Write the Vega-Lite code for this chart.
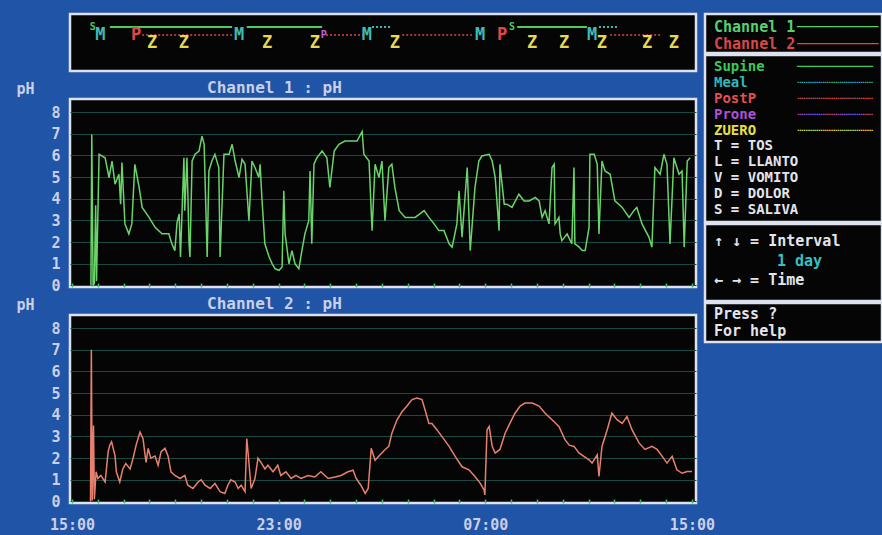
{
  "$schema": "https://vega.github.io/schema/vega-lite/v6.json",
  "background": "#2054a6",
  "padding": {"left": 14, "top": 12, "right": 2, "bottom": 8},
  "config": {
    "view": {"fill": "#050505", "stroke": "#dde2ee", "strokeWidth": 2.5},
    "font": "DejaVu Sans Mono",
    "text": {"font": "DejaVu Sans Mono", "fontWeight": "bold"},
    "axis": {"labelFont": "DejaVu Sans Mono", "labelFontWeight": "bold", "labelFontSize": 15, "labelColor": "#c9cfe6", "titleFont": "DejaVu Sans Mono", "titleFontWeight": "bold", "titleFontSize": 15, "titleColor": "#c9cfe6"},
    "title": {"font": "DejaVu Sans Mono", "fontWeight": "bold", "fontSize": 16, "color": "#c9cfe6", "anchor": "start", "frame": "group", "dx": 137, "offset": -15}
  },
  "datasets": {
    "ch1": [
      {"t":"2024-01-01T15:44","ph":0},{"t":"2024-01-01T15:46","ph":6.96},{"t":"2024-01-01T15:49","ph":0},{"t":"2024-01-01T15:52","ph":0.1},{"t":"2024-01-01T15:55","ph":3.7},{"t":"2024-01-01T15:57","ph":0.2},
      {"t":"2024-01-01T16:03","ph":6.05},{"t":"2024-01-01T16:17","ph":5.89},{"t":"2024-01-01T16:26","ph":4.98},{"t":"2024-01-01T16:33","ph":5.74},{"t":"2024-01-01T16:40","ph":4.67},{"t":"2024-01-01T16:49","ph":5.13},{"t":"2024-01-01T16:53","ph":3.75},{"t":"2024-01-01T16:56","ph":5.67},
      {"t":"2024-01-01T17:03","ph":2.84},{"t":"2024-01-01T17:12","ph":2.38},{"t":"2024-01-01T17:19","ph":2.84},{"t":"2024-01-01T17:26","ph":5.59},{"t":"2024-01-01T17:36","ph":4.52},{"t":"2024-01-01T17:43","ph":3.6},{"t":"2024-01-01T17:59","ph":3.14},
      {"t":"2024-01-01T18:13","ph":2.68},{"t":"2024-01-01T18:29","ph":2.38},{"t":"2024-01-01T18:45","ph":2.38},{"t":"2024-01-01T18:52","ph":1.92},{"t":"2024-01-01T18:59","ph":1.61},
      {"t":"2024-01-01T19:04","ph":2.9},{"t":"2024-01-01T19:09","ph":3.3},{"t":"2024-01-01T19:12","ph":1.31},{"t":"2024-01-01T19:20","ph":5.89},{"t":"2024-01-01T19:22","ph":3.45},{"t":"2024-01-01T19:27","ph":5.89},{"t":"2024-01-01T19:32","ph":1.9},{"t":"2024-01-01T19:34","ph":1.31},{"t":"2024-01-01T19:39","ph":5.74},{"t":"2024-01-01T19:46","ph":6.05},{"t":"2024-01-01T19:55","ph":6.2},
      {"t":"2024-01-01T20:02","ph":6.89},{"t":"2024-01-01T20:07","ph":6.51},{"t":"2024-01-01T20:09","ph":4.98},{"t":"2024-01-01T20:14","ph":1.31},{"t":"2024-01-01T20:18","ph":5.28},{"t":"2024-01-01T20:25","ph":5.74},{"t":"2024-01-01T20:32","ph":6.05},{"t":"2024-01-01T20:41","ph":5.44},{"t":"2024-01-01T20:44","ph":1.31},{"t":"2024-01-01T20:53","ph":6.05},
      {"t":"2024-01-01T21:05","ph":6.05},{"t":"2024-01-01T21:12","ph":6.51},{"t":"2024-01-01T21:19","ph":5.74},{"t":"2024-01-01T21:28","ph":4.98},{"t":"2024-01-01T21:35","ph":5.82},{"t":"2024-01-01T21:42","ph":5.59},{"t":"2024-01-01T21:51","ph":2.99},{"t":"2024-01-01T21:58","ph":5.74},
      {"t":"2024-01-01T22:05","ph":5.44},{"t":"2024-01-01T22:14","ph":4.98},{"t":"2024-01-01T22:17","ph":5.59},{"t":"2024-01-01T22:21","ph":4.06},{"t":"2024-01-01T22:28","ph":1.92},{"t":"2024-01-01T22:38","ph":1.31},{"t":"2024-01-01T22:45","ph":1.0},{"t":"2024-01-01T22:52","ph":0.77},
      {"t":"2024-01-01T23:01","ph":0.7},{"t":"2024-01-01T23:08","ph":0.85},{"t":"2024-01-01T23:12","ph":4.37},{"t":"2024-01-01T23:15","ph":2.38},{"t":"2024-01-01T23:24","ph":1.0},{"t":"2024-01-01T23:31","ph":1.61},{"t":"2024-01-01T23:38","ph":1.0},{"t":"2024-01-01T23:47","ph":0.77},{"t":"2024-01-01T23:54","ph":1.61},
      {"t":"2024-01-02T00:01","ph":2.38},{"t":"2024-01-02T00:10","ph":2.99},{"t":"2024-01-02T00:13","ph":5.28},{"t":"2024-01-02T00:17","ph":1.92},{"t":"2024-01-02T00:22","ph":5.59},{"t":"2024-01-02T00:29","ph":5.89},{"t":"2024-01-02T00:41","ph":6.2},{"t":"2024-01-02T00:52","ph":5.89},{"t":"2024-01-02T00:59","ph":4.52},
      {"t":"2024-01-02T01:09","ph":6.2},{"t":"2024-01-02T01:20","ph":6.51},{"t":"2024-01-02T01:34","ph":6.66},{"t":"2024-01-02T02:02","ph":6.66},{"t":"2024-01-02T02:14","ph":7.1},{"t":"2024-01-02T02:18","ph":6.05},{"t":"2024-01-02T02:30","ph":5.74},{"t":"2024-01-02T02:37","ph":2.53},{"t":"2024-01-02T02:44","ph":5.59},{"t":"2024-01-02T02:53","ph":4.98},
      {"t":"2024-01-02T03:00","ph":5.74},{"t":"2024-01-02T03:05","ph":3.75},{"t":"2024-01-02T03:07","ph":2.99},{"t":"2024-01-02T03:16","ph":5.44},{"t":"2024-01-02T03:23","ph":5.59},{"t":"2024-01-02T03:30","ph":4.52},{"t":"2024-01-02T03:40","ph":3.45},{"t":"2024-01-02T03:54","ph":3.14},
      {"t":"2024-01-02T04:17","ph":3.14},{"t":"2024-01-02T04:38","ph":3.45},{"t":"2024-01-02T04:49","ph":3.14},{"t":"2024-01-02T05:01","ph":2.84},{"t":"2024-01-02T05:12","ph":2.53},{"t":"2024-01-02T05:24","ph":2.53},{"t":"2024-01-02T05:36","ph":1.92},{"t":"2024-01-02T05:43","ph":1.77},{"t":"2024-01-02T05:54","ph":2.84},{"t":"2024-01-02T05:59","ph":4.37},
      {"t":"2024-01-02T06:06","ph":2.23},{"t":"2024-01-02T06:18","ph":5.44},{"t":"2024-01-02T06:25","ph":1.61},{"t":"2024-01-02T06:36","ph":4.52},{"t":"2024-01-02T06:45","ph":5.74},{"t":"2024-01-02T06:52","ph":5.97},
      {"t":"2024-01-02T07:09","ph":6.05},{"t":"2024-01-02T07:16","ph":5.74},{"t":"2024-01-02T07:23","ph":4.98},{"t":"2024-01-02T07:32","ph":2.53},{"t":"2024-01-02T07:34","ph":5.59},{"t":"2024-01-02T07:44","ph":3.75},{"t":"2024-01-02T07:50","ph":3.75},
      {"t":"2024-01-02T08:02","ph":3.6},{"t":"2024-01-02T08:18","ph":4.21},{"t":"2024-01-02T08:30","ph":3.9},{"t":"2024-01-02T08:42","ph":3.9},{"t":"2024-01-02T08:56","ph":4.06},
      {"t":"2024-01-02T09:05","ph":3.9},{"t":"2024-01-02T09:12","ph":3.14},{"t":"2024-01-02T09:19","ph":3.45},{"t":"2024-01-02T09:28","ph":2.84},{"t":"2024-01-02T09:35","ph":5.44},{"t":"2024-01-02T09:40","ph":5.59},{"t":"2024-01-02T09:42","ph":2.84},{"t":"2024-01-02T09:51","ph":3.14},{"t":"2024-01-02T09:54","ph":2.38},{"t":"2024-01-02T09:58","ph":2.07},
      {"t":"2024-01-02T10:10","ph":2.38},{"t":"2024-01-02T10:21","ph":1.92},{"t":"2024-01-02T10:26","ph":5.44},{"t":"2024-01-02T10:28","ph":1.92},{"t":"2024-01-02T10:38","ph":1.77},{"t":"2024-01-02T10:45","ph":1.61},{"t":"2024-01-02T10:52","ph":1.61},
      {"t":"2024-01-02T11:01","ph":2.68},{"t":"2024-01-02T11:03","ph":6.05},{"t":"2024-01-02T11:13","ph":6.05},{"t":"2024-01-02T11:20","ph":5.59},{"t":"2024-01-02T11:24","ph":2.38},{"t":"2024-01-02T11:31","ph":5.74},{"t":"2024-01-02T11:38","ph":5.28},{"t":"2024-01-02T11:50","ph":5.13},
      {"t":"2024-01-02T12:01","ph":3.9},{"t":"2024-01-02T12:18","ph":3.6},{"t":"2024-01-02T12:34","ph":3.14},{"t":"2024-01-02T12:45","ph":3.45},{"t":"2024-01-02T12:52","ph":3.6},
      {"t":"2024-01-02T13:04","ph":2.84},{"t":"2024-01-02T13:20","ph":2.23},{"t":"2024-01-02T13:27","ph":1.77},{"t":"2024-01-02T13:34","ph":5.44},{"t":"2024-01-02T13:46","ph":5.13},{"t":"2024-01-02T13:55","ph":6.05},
      {"t":"2024-01-02T14:02","ph":5.59},{"t":"2024-01-02T14:09","ph":1.92},{"t":"2024-01-02T14:18","ph":5.89},{"t":"2024-01-02T14:30","ph":5.13},{"t":"2024-01-02T14:37","ph":5.28},{"t":"2024-01-02T14:42","ph":1.77},{"t":"2024-01-02T14:49","ph":5.74},{"t":"2024-01-02T14:56","ph":5.89}
    ],
    "ch2": [
      {"t":"2024-01-01T15:43","ph":0},{"t":"2024-01-01T15:45","ph":7.0},{"t":"2024-01-01T15:47","ph":0.05},{"t":"2024-01-01T15:50","ph":3.5},{"t":"2024-01-01T15:52","ph":0.1},{"t":"2024-01-01T15:56","ph":1.37},
      {"t":"2024-01-01T16:00","ph":1.06},{"t":"2024-01-01T16:07","ph":1.2},{"t":"2024-01-01T16:17","ph":0.9},{"t":"2024-01-01T16:24","ph":2.3},{"t":"2024-01-01T16:28","ph":2.6},{"t":"2024-01-01T16:32","ph":2.75},{"t":"2024-01-01T16:40","ph":2.1},{"t":"2024-01-01T16:43","ph":1.37},{"t":"2024-01-01T16:51","ph":0.9},{"t":"2024-01-01T16:58","ph":1.5},
      {"t":"2024-01-01T17:05","ph":1.75},{"t":"2024-01-01T17:15","ph":1.5},{"t":"2024-01-01T17:22","ph":2.0},{"t":"2024-01-01T17:29","ph":2.6},{"t":"2024-01-01T17:38","ph":3.2},{"t":"2024-01-01T17:45","ph":2.9},{"t":"2024-01-01T17:52","ph":1.8},{"t":"2024-01-01T17:57","ph":2.45},
      {"t":"2024-01-01T18:03","ph":2.0},{"t":"2024-01-01T18:13","ph":2.1},{"t":"2024-01-01T18:20","ph":1.67},{"t":"2024-01-01T18:27","ph":2.3},{"t":"2024-01-01T18:36","ph":2.45},{"t":"2024-01-01T18:43","ph":2.1},{"t":"2024-01-01T18:50","ph":1.37},{"t":"2024-01-01T18:59","ph":1.2},
      {"t":"2024-01-01T19:11","ph":1.06},{"t":"2024-01-01T19:22","ph":1.2},{"t":"2024-01-01T19:29","ph":0.75},{"t":"2024-01-01T19:41","ph":0.6},{"t":"2024-01-01T19:53","ph":0.9},
      {"t":"2024-01-01T20:00","ph":1.0},{"t":"2024-01-01T20:09","ph":0.75},{"t":"2024-01-01T20:21","ph":0.6},{"t":"2024-01-01T20:32","ph":0.83},{"t":"2024-01-01T20:44","ph":0.45},{"t":"2024-01-01T20:55","ph":0.37},
      {"t":"2024-01-01T21:02","ph":0.75},{"t":"2024-01-01T21:09","ph":1.0},{"t":"2024-01-01T21:19","ph":0.9},{"t":"2024-01-01T21:26","ph":0.6},{"t":"2024-01-01T21:33","ph":0.75},{"t":"2024-01-01T21:42","ph":0.45},{"t":"2024-01-01T21:46","ph":2.9},{"t":"2024-01-01T21:51","ph":1.8},{"t":"2024-01-01T21:56","ph":0.6},
      {"t":"2024-01-01T22:05","ph":1.06},{"t":"2024-01-01T22:12","ph":2.0},{"t":"2024-01-01T22:19","ph":1.8},{"t":"2024-01-01T22:28","ph":1.5},{"t":"2024-01-01T22:35","ph":1.67},{"t":"2024-01-01T22:47","ph":1.37},{"t":"2024-01-01T22:58","ph":1.67},
      {"t":"2024-01-01T23:05","ph":1.2},{"t":"2024-01-01T23:17","ph":1.37},{"t":"2024-01-01T23:29","ph":1.06},{"t":"2024-01-01T23:40","ph":1.2},{"t":"2024-01-01T23:52","ph":1.06},
      {"t":"2024-01-02T00:08","ph":1.2},{"t":"2024-01-02T00:24","ph":1.13},{"t":"2024-01-02T00:38","ph":1.37},{"t":"2024-01-02T00:55","ph":1.06},{"t":"2024-01-02T01:11","ph":1.13},{"t":"2024-01-02T01:25","ph":1.2},{"t":"2024-01-02T01:41","ph":1.37},{"t":"2024-01-02T01:53","ph":1.44},
      {"t":"2024-01-02T02:00","ph":1.06},{"t":"2024-01-02T02:11","ph":0.75},{"t":"2024-01-02T02:21","ph":0.37},{"t":"2024-01-02T02:28","ph":0.6},{"t":"2024-01-02T02:35","ph":2.45},{"t":"2024-01-02T02:44","ph":1.9},{"t":"2024-01-02T02:53","ph":2.1},
      {"t":"2024-01-02T03:05","ph":2.35},{"t":"2024-01-02T03:16","ph":2.55},{"t":"2024-01-02T03:23","ph":3.15},{"t":"2024-01-02T03:35","ph":3.77},{"t":"2024-01-02T03:47","ph":4.15},{"t":"2024-01-02T03:58","ph":4.4},
      {"t":"2024-01-02T04:10","ph":4.7},{"t":"2024-01-02T04:21","ph":4.77},{"t":"2024-01-02T04:33","ph":4.7},{"t":"2024-01-02T04:40","ph":4.23},{"t":"2024-01-02T04:49","ph":3.6},{"t":"2024-01-02T04:56","ph":3.6},
      {"t":"2024-01-02T05:08","ph":3.3},{"t":"2024-01-02T05:19","ph":3.0},{"t":"2024-01-02T05:36","ph":2.54},{"t":"2024-01-02T05:50","ph":2.08},
      {"t":"2024-01-02T06:06","ph":1.6},{"t":"2024-01-02T06:22","ph":1.46},{"t":"2024-01-02T06:36","ph":1.15},{"t":"2024-01-02T06:48","ph":0.85},{"t":"2024-01-02T06:57","ph":0.54},{"t":"2024-01-02T06:59","ph":0.3},
      {"t":"2024-01-02T07:04","ph":3.3},{"t":"2024-01-02T07:09","ph":3.46},{"t":"2024-01-02T07:16","ph":2.54},{"t":"2024-01-02T07:23","ph":2.23},{"t":"2024-01-02T07:34","ph":2.4},{"t":"2024-01-02T07:46","ph":3.15},{"t":"2024-01-02T07:57","ph":3.6},
      {"t":"2024-01-02T08:09","ph":4.07},{"t":"2024-01-02T08:21","ph":4.4},{"t":"2024-01-02T08:32","ph":4.54},{"t":"2024-01-02T08:49","ph":4.54},
      {"t":"2024-01-02T09:05","ph":4.4},{"t":"2024-01-02T09:19","ph":4.07},{"t":"2024-01-02T09:35","ph":3.77},{"t":"2024-01-02T09:51","ph":3.46},
      {"t":"2024-01-02T10:05","ph":2.85},{"t":"2024-01-02T10:15","ph":2.6},{"t":"2024-01-02T10:26","ph":2.54},{"t":"2024-01-02T10:38","ph":2.23},{"t":"2024-01-02T10:49","ph":2.08},
      {"t":"2024-01-02T11:01","ph":1.92},{"t":"2024-01-02T11:08","ph":1.77},{"t":"2024-01-02T11:20","ph":2.15},{"t":"2024-01-02T11:24","ph":1.15},{"t":"2024-01-02T11:31","ph":2.54},{"t":"2024-01-02T11:43","ph":3.3},{"t":"2024-01-02T11:54","ph":4.07},
      {"t":"2024-01-02T12:06","ph":3.77},{"t":"2024-01-02T12:18","ph":3.6},{"t":"2024-01-02T12:29","ph":3.92},{"t":"2024-01-02T12:41","ph":3.3},{"t":"2024-01-02T12:57","ph":2.7},
      {"t":"2024-01-02T13:11","ph":2.4},{"t":"2024-01-02T13:27","ph":2.54},{"t":"2024-01-02T13:39","ph":2.4},{"t":"2024-01-02T13:51","ph":2.08},
      {"t":"2024-01-02T14:02","ph":1.77},{"t":"2024-01-02T14:14","ph":2.08},{"t":"2024-01-02T14:25","ph":1.46},{"t":"2024-01-02T14:37","ph":1.3},{"t":"2024-01-02T14:49","ph":1.38},{"t":"2024-01-02T15:00","ph":1.38}
    ],
    "events": [
      {"t":"2024-01-01T15:48","letter":"S","kind":"Supine","lane":"top"},
      {"t":"2024-01-01T16:06","letter":"M","kind":"Meal","lane":"mid"},
      {"t":"2024-01-01T17:29","letter":"P","kind":"PostP","lane":"mid"},
      {"t":"2024-01-01T18:06","letter":"Z","kind":"ZUERO","lane":"low"},
      {"t":"2024-01-01T19:20","letter":"Z","kind":"ZUERO","lane":"low"},
      {"t":"2024-01-01T21:28","letter":"M","kind":"Meal","lane":"mid"},
      {"t":"2024-01-01T22:33","letter":"Z","kind":"ZUERO","lane":"low"},
      {"t":"2024-01-02T00:24","letter":"Z","kind":"ZUERO","lane":"low"},
      {"t":"2024-01-02T00:45","letter":"P","kind":"Prone","lane":"mid"},
      {"t":"2024-01-02T02:25","letter":"M","kind":"Meal","lane":"mid"},
      {"t":"2024-01-02T03:30","letter":"Z","kind":"ZUERO","lane":"low"},
      {"t":"2024-01-02T06:48","letter":"M","kind":"Meal","lane":"mid"},
      {"t":"2024-01-02T07:39","letter":"P","kind":"PostP","lane":"mid"},
      {"t":"2024-01-02T08:02","letter":"S","kind":"Supine","lane":"top"},
      {"t":"2024-01-02T08:49","letter":"Z","kind":"ZUERO","lane":"low"},
      {"t":"2024-01-02T10:03","letter":"Z","kind":"ZUERO","lane":"low"},
      {"t":"2024-01-02T11:08","letter":"M","kind":"Meal","lane":"mid"},
      {"t":"2024-01-02T11:31","letter":"Z","kind":"ZUERO","lane":"low"},
      {"t":"2024-01-02T13:16","letter":"Z","kind":"ZUERO","lane":"low"},
      {"t":"2024-01-02T14:18","letter":"Z","kind":"ZUERO","lane":"low"}
    ],
    "spans": [
      {"t":"2024-01-01T16:28","t2":"2024-01-01T21:12","kind":"Supine","lane":"top"},
      {"t":"2024-01-01T21:46","t2":"2024-01-02T00:41","kind":"Supine","lane":"top"},
      {"t":"2024-01-02T08:14","t2":"2024-01-02T10:56","kind":"Supine","lane":"top"},
      {"t":"2024-01-02T02:37","t2":"2024-01-02T03:19","kind":"Meal","lane":"top"},
      {"t":"2024-01-02T11:24","t2":"2024-01-02T12:06","kind":"Meal","lane":"top"},
      {"t":"2024-01-01T17:43","t2":"2024-01-01T21:16","kind":"PostP","lane":"mid"},
      {"t":"2024-01-02T00:50","t2":"2024-01-02T02:15","kind":"PostP","lane":"mid"},
      {"t":"2024-01-02T03:47","t2":"2024-01-02T06:29","kind":"PostP","lane":"mid"},
      {"t":"2024-01-02T11:50","t2":"2024-01-02T13:51","kind":"PostP","lane":"mid"}
    ],
    "leg1": [
      {"row":1,"col":"a","txt":"Channel 1","item":"Channel 1"},
      {"row":1,"col":"b","txt":"─────────","item":"Channel 1"},
      {"row":2,"col":"a","txt":"Channel 2","item":"Channel 2"},
      {"row":2,"col":"b","txt":"─────────","item":"Channel 2"}
    ],
    "leg2": [
      {"row":1,"col":"a","txt":"Supine","item":"Supine"},
      {"row":1,"col":"b","txt":"─────────","item":"Supine"},
      {"row":2,"col":"a","txt":"Meal","item":"Meal"},
      {"row":2,"col":"b","txt":"┈┈┈┈┈┈┈┈┈","item":"Meal"},
      {"row":3,"col":"a","txt":"PostP","item":"PostP"},
      {"row":3,"col":"b","txt":"┈┈┈┈┈┈┈┈┈","item":"PostP"},
      {"row":4,"col":"a","txt":"Prone","item":"Prone"},
      {"row":4,"col":"b","txt":"┈┈┈┈┈┈┈┈┈","item":"Prone"},
      {"row":5,"col":"a","txt":"ZUERO","item":"ZUERO"},
      {"row":5,"col":"b","txt":"┈┈┈┈┈┈┈┈┈","item":"ZUERO"},
      {"row":6,"col":"a","txt":"T = TOS","item":"key"},
      {"row":7,"col":"a","txt":"L = LLANTO","item":"key"},
      {"row":8,"col":"a","txt":"V = VOMITO","item":"key"},
      {"row":9,"col":"a","txt":"D = DOLOR","item":"key"},
      {"row":10,"col":"a","txt":"S = SALIVA","item":"key"}
    ],
    "leg3": [
      {"row":1,"col":"a","txt":"↑ ↓ = Interval","item":"key"},
      {"row":2,"col":"c","txt":"1 day","item":"interval"},
      {"row":3,"col":"a","txt":"← → = Time","item":"key"}
    ],
    "leg4": [
      {"row":1,"col":"a","txt":"Press ?","item":"key"},
      {"row":2,"col":"a","txt":"For help","item":"key"}
    ]
  },
  "hconcat": [
    {
      "bounds": "flush",
      "spacing": 28,
      "resolve": {"scale": {"color": "independent"}},
      "vconcat": [
        {
          "width": 626,
          "height": 57,
          "layer": [
            {
              "data": {"name": "spans"},
              "transform": [{"filter": "datum.kind == 'Supine'"}],
              "mark": {"type": "rule", "strokeWidth": 2, "color": "#4ccc60"},
              "encoding": {
                "x": {"field": "t", "type": "temporal", "scale": {"nice": false, "domain": [{"year":2024,"month":1,"date":1,"hours":14,"minutes":55,"seconds":24},{"year":2024,"month":1,"date":2,"hours":15,"minutes":9,"seconds":24}]}, "axis": null},
                "x2": {"field": "t2"},
                "y": {"field": "lane", "type": "ordinal", "scale": {"type": "point", "domain": ["top","mid","low"], "range": [9, 33]}, "axis": null}
              }
            },
            {
              "data": {"name": "spans"},
              "transform": [{"filter": "datum.kind == 'Meal'"}],
              "mark": {"type": "rule", "strokeWidth": 2, "color": "#3cbcb4", "strokeDash": [2, 2]},
              "encoding": {
                "x": {"field": "t", "type": "temporal", "axis": null},
                "x2": {"field": "t2"},
                "y": {"field": "lane", "type": "ordinal", "axis": null}
              }
            },
            {
              "data": {"name": "spans"},
              "transform": [{"filter": "datum.kind == 'PostP'"}],
              "mark": {"type": "rule", "strokeWidth": 1.5, "color": "#d84848", "strokeDash": [2, 2]},
              "encoding": {
                "x": {"field": "t", "type": "temporal", "axis": null},
                "x2": {"field": "t2"},
                "y": {"field": "lane", "type": "ordinal", "axis": null}
              }
            },
            {
              "data": {"name": "events"},
              "transform": [{"filter": "datum.kind != 'Supine' && datum.kind != 'Prone'"}],
              "mark": {"type": "text", "baseline": "middle", "fontWeight": "bold", "fontSize": 17},
              "encoding": {
                "x": {"field": "t", "type": "temporal", "axis": null},
                "y": {"field": "lane", "type": "ordinal", "axis": null},
                "text": {"field": "letter"},
                "color": {"field": "kind", "type": "nominal", "scale": {"domain": ["Supine","Meal","PostP","Prone","ZUERO"], "range": ["#4ccc60","#3cbcb4","#e04848","#c060e0","#e6d850"]}, "legend": null}
              }
            },
            {
              "data": {"name": "events"},
              "transform": [{"filter": "datum.kind == 'Supine' || datum.kind == 'Prone'"}],
              "mark": {"type": "text", "baseline": "middle", "fontWeight": "bold", "fontSize": 10},
              "encoding": {
                "x": {"field": "t", "type": "temporal", "axis": null},
                "y": {"field": "lane", "type": "ordinal", "axis": null},
                "text": {"field": "letter"},
                "color": {"field": "kind", "type": "nominal", "legend": null}
              }
            }
          ]
        },
        {
          "width": 626,
          "height": 188,
          "title": {"text": "Channel 1 : pH"},
          "data": {"name": "ch1"},
          "mark": {"type": "line", "color": "#6ad46a", "strokeWidth": 1.5, "clip": true},
          "encoding": {
            "x": {"field": "t", "type": "temporal", "scale": {"nice": false, "domain": [{"year":2024,"month":1,"date":1,"hours":14,"minutes":55,"seconds":24},{"year":2024,"month":1,"date":2,"hours":15,"minutes":9,"seconds":24}]},
                  "axis": {"title": null, "tickCount": 24, "labels": false, "domain": false, "grid": false, "tickSize": 4, "offset": -4, "tickColor": "#3fbf5f", "tickWidth": 1.5}},
            "y": {"field": "ph", "type": "quantitative", "scale": {"domain": [-0.07, 8.6], "nice": false, "zero": false},
                  "axis": {"values": [0,1,2,3,4,5,6,7,8], "title": "pH", "titleAngle": 0, "titleAlign": "left", "titleBaseline": "middle", "titleX": -54, "titleY": -11, "domain": false, "ticks": false, "labelPadding": 10, "grid": true, "gridColor": "#1b4a44", "gridWidth": 1}}
          }
        },
        {
          "width": 626,
          "height": 188,
          "title": {"text": "Channel 2 : pH"},
          "data": {"name": "ch2"},
          "mark": {"type": "line", "color": "#e8806e", "strokeWidth": 1.5, "clip": true},
          "encoding": {
            "x": {"field": "t", "type": "temporal", "scale": {"nice": false, "domain": [{"year":2024,"month":1,"date":1,"hours":14,"minutes":55,"seconds":24},{"year":2024,"month":1,"date":2,"hours":15,"minutes":9,"seconds":24}]},
                  "axis": {"title": null, "tickCount": 24, "format": "%H:%M", "labelOverlap": "parity", "labelSeparation": 100, "labelFlush": false, "labelPadding": 14, "domain": false, "grid": false, "tickSize": 4, "offset": -4, "tickColor": "#3fbf5f", "tickWidth": 1.5}},
            "y": {"field": "ph", "type": "quantitative", "scale": {"domain": [-0.07, 8.6], "nice": false, "zero": false},
                  "axis": {"values": [0,1,2,3,4,5,6,7,8], "title": "pH", "titleAngle": 0, "titleAlign": "left", "titleBaseline": "middle", "titleX": -54, "titleY": -11, "domain": false, "ticks": false, "labelPadding": 10, "grid": true, "gridColor": "#1b4a44", "gridWidth": 1}}
          }
        }
      ]
    },
    {
      "bounds": "flush",
      "spacing": 2,
      "resolve": {"scale": {"color": "independent"}},
      "vconcat": [
        {
          "width": 177, "height": 39,
          "data": {"name": "leg1"},
          "mark": {"type": "text", "align": "left", "baseline": "middle", "fontSize": 15, "dy": 2},
          "encoding": {
            "x": {"field": "col", "type": "nominal", "scale": {"type": "point", "domain": ["a","b"], "range": [9, 92], "padding": 0}, "axis": null},
            "y": {"field": "row", "type": "ordinal", "scale": {"type": "point", "padding": 0.65}, "axis": null},
            "text": {"field": "txt"},
            "color": {"field": "item", "type": "nominal", "scale": {"domain": ["Channel 1","Channel 2"], "range": ["#58d070","#d84848"]}, "legend": null}
          }
        },
        {
          "width": 177, "height": 167,
          "data": {"name": "leg2"},
          "mark": {"type": "text", "align": "left", "baseline": "middle", "fontSize": 14},
          "encoding": {
            "x": {"field": "col", "type": "nominal", "scale": {"type": "point", "domain": ["a","b"], "range": [9, 92], "padding": 0}, "axis": null},
            "y": {"field": "row", "type": "ordinal", "scale": {"type": "point", "padding": 0.75}, "axis": null},
            "text": {"field": "txt"},
            "color": {"field": "item", "type": "nominal", "scale": {"domain": ["Supine","Meal","PostP","Prone","ZUERO","key"], "range": ["#3cc85a","#30b8b8","#e05050","#b050d8","#e8e040","#e4e4ec"]}, "legend": null}
          }
        },
        {
          "width": 177, "height": 77,
          "data": {"name": "leg3"},
          "mark": {"type": "text", "align": "left", "baseline": "middle", "fontSize": 15, "dy": -2},
          "encoding": {
            "x": {"field": "col", "type": "nominal", "scale": {"type": "point", "domain": ["a","c"], "range": [9, 72], "padding": 0}, "axis": null},
            "y": {"field": "row", "type": "ordinal", "scale": {"type": "point", "padding": 1}, "axis": null},
            "text": {"field": "txt"},
            "color": {"field": "item", "type": "nominal", "scale": {"domain": ["key","interval"], "range": ["#e4e4ec","#38c0c0"]}, "legend": null}
          }
        },
        {
          "width": 177, "height": 39,
          "data": {"name": "leg4"},
          "mark": {"type": "text", "align": "left", "baseline": "middle", "fontSize": 15},
          "encoding": {
            "x": {"field": "col", "type": "nominal", "scale": {"type": "point", "domain": ["a","b"], "range": [9, 92], "padding": 0}, "axis": null},
            "y": {"field": "row", "type": "ordinal", "scale": {"type": "point", "padding": 0.65}, "axis": null},
            "text": {"field": "txt"},
            "color": {"field": "item", "type": "nominal", "scale": {"domain": ["key"], "range": ["#e4e4ec"]}, "legend": null}
          }
        }
      ]
    }
  ],
  "spacing": 635,
  "bounds": "flush",
  "resolve": {"scale": {"color": "independent"}}
}
